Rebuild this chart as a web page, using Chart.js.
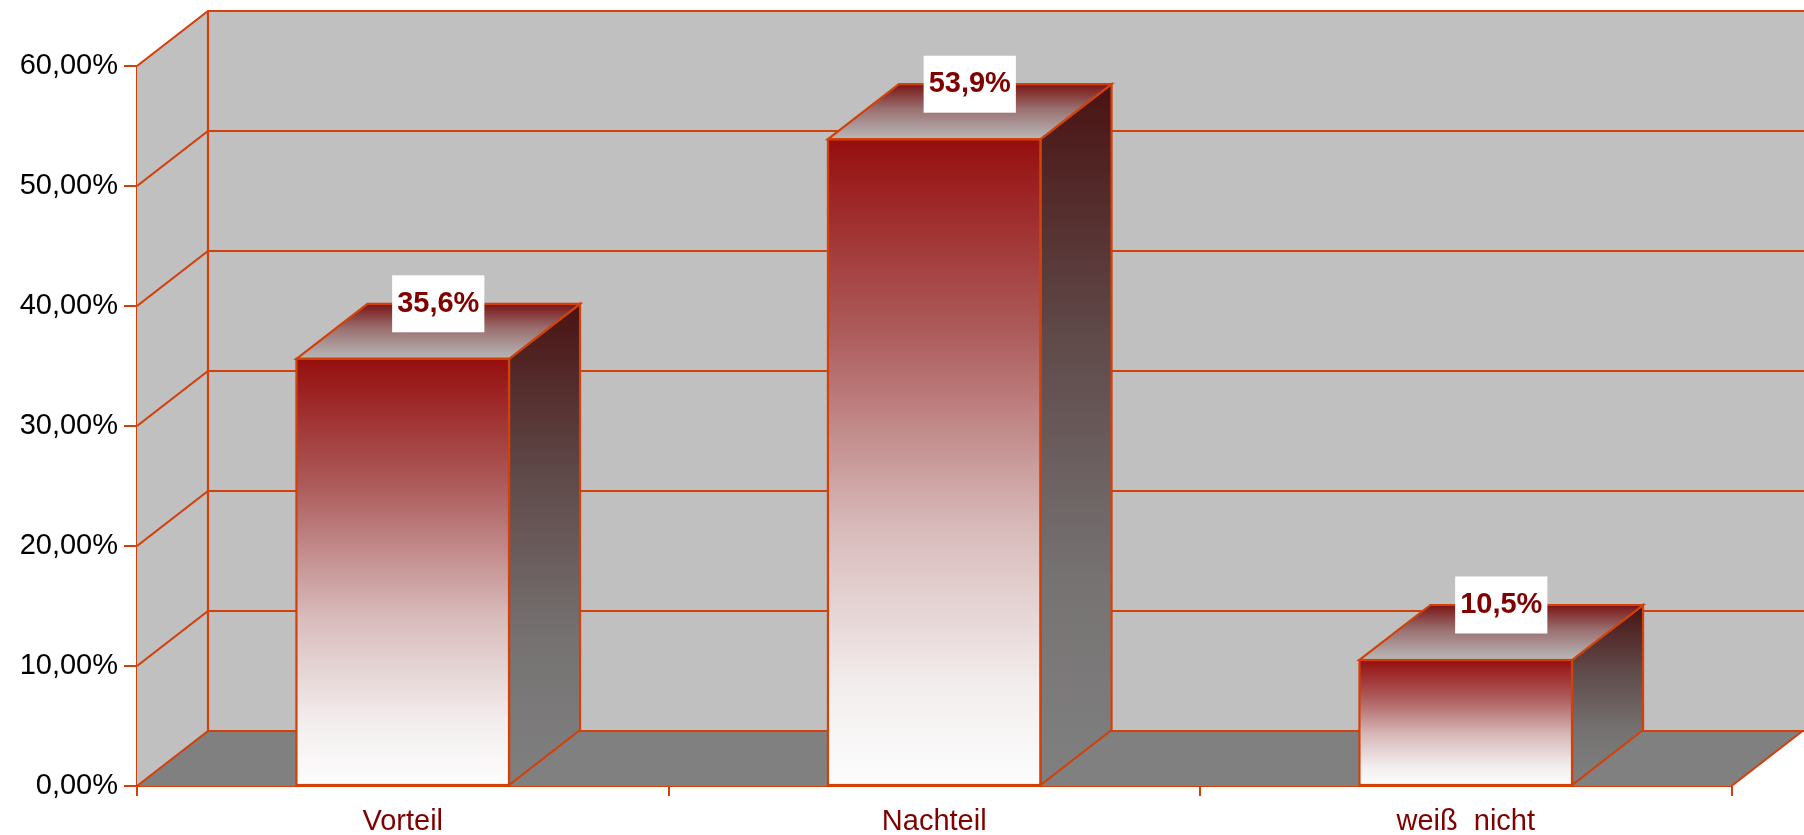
<!DOCTYPE html>
<html>
<head>
<meta charset="utf-8">
<script src="https://cdn.jsdelivr.net/npm/chart.js@4.4.1/dist/chart.umd.min.js"></script>
<style>
html,body{margin:0;padding:0;background:#fff;}
#wrap{width:1804px;height:835px;}
</style>
</head>
<body>
<div id="wrap"><canvas id="c" width="1804" height="835"></canvas></div>
<script>
const categories = ['Vorteil', 'Nachteil', 'weiß  nicht'];
const shares = [35.6, 53.9, 10.5];
const yTicks = [0, 10, 20, 30, 40, 50, 60];

const LINE = '#d2410a';
const DX = 71, DY = 55;
const FONT = "'Liberation Sans', Arial, sans-serif";

function pct2(v){ return v.toFixed(2).replace('.', ',') + '%'; }
function pct1(v){ return v.toFixed(1).replace('.', ',') + '%'; }

const threeD = {
  id: 'threeD',
  beforeDatasetsDraw(chart){
    const {ctx, chartArea:a, scales:{y}} = chart;
    const W = chart.width;
    const y0 = y.getPixelForValue(0), yTop = y.getPixelForValue(yTicks[yTicks.length-1]);
    ctx.save();
    ctx.fillStyle = '#c0c0c0';
    ctx.fillRect(a.left + DX, yTop - DY, W - a.left - DX, y0 - yTop);
    ctx.beginPath();
    ctx.moveTo(a.left, yTop); ctx.lineTo(a.left + DX, yTop - DY);
    ctx.lineTo(a.left + DX, y0 - DY); ctx.lineTo(a.left, y0); ctx.closePath();
    ctx.fill();
    ctx.fillStyle = '#808080';
    ctx.beginPath();
    ctx.moveTo(a.left, y0); ctx.lineTo(a.right, y0);
    ctx.lineTo(a.right + DX, y0 - DY); ctx.lineTo(a.left + DX, y0 - DY); ctx.closePath();
    ctx.fill();
    ctx.strokeStyle = LINE; ctx.lineWidth = 2.2;
    yTicks.forEach(v => {
      const py = y.getPixelForValue(v);
      ctx.beginPath();
      ctx.moveTo(a.left, py); ctx.lineTo(a.left + DX, py - DY); ctx.lineTo(W, py - DY);
      ctx.stroke();
    });
    ctx.beginPath();
    ctx.moveTo(a.left + DX, yTop - DY); ctx.lineTo(a.left + DX, y0 - DY); ctx.stroke();
    ctx.beginPath();
    ctx.moveTo(a.right, y0); ctx.lineTo(a.right + DX, y0 - DY); ctx.stroke();
    ctx.restore();
  },
  afterDatasetsDraw(chart){
    const {ctx} = chart;
    const meta = chart.getDatasetMeta(0);
    ctx.save();
    meta.data.forEach((bar, i) => {
      const p = bar.getProps(['x','y','base','width'], true);
      const L = p.x - p.width/2, R = p.x + p.width/2, T = p.y, B = p.base;
      let g = ctx.createLinearGradient(0, T - DY, 0, B);
      g.addColorStop(0, '#4a1212');
      g.addColorStop(0.35, '#5f4848');
      g.addColorStop(0.7, '#767272');
      g.addColorStop(1, '#808080');
      ctx.fillStyle = g;
      ctx.beginPath();
      ctx.moveTo(R, T); ctx.lineTo(R + DX, T - DY); ctx.lineTo(R + DX, B - DY); ctx.lineTo(R, B); ctx.closePath();
      ctx.fill();
      ctx.strokeStyle = LINE; ctx.lineWidth = 2.2; ctx.stroke();
      g = ctx.createLinearGradient(0, T - DY, 0, T);
      g.addColorStop(0, '#7a1414');
      g.addColorStop(0.45, '#9a7070');
      g.addColorStop(1, '#b9b9b9');
      ctx.fillStyle = g;
      ctx.beginPath();
      ctx.moveTo(L, T); ctx.lineTo(R, T); ctx.lineTo(R + DX, T - DY); ctx.lineTo(L + DX, T - DY); ctx.closePath();
      ctx.fill(); ctx.stroke();
      ctx.strokeRect(L, T, R - L, B - T);
      const txt = pct1(shares[i]);
      ctx.font = 'bold 29px ' + FONT;
      const tw = ctx.measureText(txt).width;
      const cx = p.x + DX/2, cy = T - DY;
      const bw = tw + 10, bh = 57;
      ctx.fillStyle = '#ffffff';
      ctx.fillRect(cx - bw/2, cy - bh/2, bw, bh);
      ctx.fillStyle = '#800000';
      ctx.textAlign = 'center'; ctx.textBaseline = 'alphabetic';
      ctx.fillText(txt, cx, cy + 8);
    });
    ctx.restore();
  }
};

new Chart(document.getElementById('c'), {
  type: 'bar',
  data: {
    labels: categories,
    datasets: [{
      data: shares,
      barPercentage: 0.4,
      categoryPercentage: 1.0,
      borderWidth: 0,
      backgroundColor: (c) => {
        const chart = c.chart, y = chart.scales && chart.scales.y;
        if (!y || c.type !== 'data') return '#960e0e';
        const top = y.getPixelForValue(c.raw), base = y.getPixelForValue(0);
        if (!isFinite(top) || !isFinite(base) || top === base) return '#960e0e';
        const g = chart.ctx.createLinearGradient(0, top, 0, base);
        g.addColorStop(0, '#960e0e');
        g.addColorStop(0.3, '#ad5c5c');
        g.addColorStop(0.6, '#d8baba');
        g.addColorStop(0.85, '#f3eeee');
        g.addColorStop(1, '#fdfdfd');
        return g;
      }
    }]
  },
  options: {
    responsive: false,
    animation: false,
    devicePixelRatio: 1,
    layout: { padding: { top: 66, right: 72.5, left: 0, bottom: 0 } },
    plugins: { legend: { display: false }, tooltip: { enabled: false } },
    scales: {
      x: {
        offset: true,
        grid: { display: true, drawOnChartArea: false, drawTicks: true, tickLength: 10, color: LINE, lineWidth: 2, offset: true },
        border: { display: true, color: LINE, width: 2 },
        ticks: { color: '#800000', font: { family: FONT, size: 29 }, padding: 9, maxRotation: 0 },
        afterFit(s){ s.height = 49; }
      },
      y: {
        min: 0, max: 60,
        afterBuildTicks(s){ s.ticks = yTicks.map(v => ({value: v})); },
        grid: { display: true, drawOnChartArea: false, drawTicks: true, tickLength: 13, color: LINE, lineWidth: 2 },
        border: { display: true, color: LINE, width: 2 },
        ticks: { color: '#000000', font: { family: FONT, size: 29 }, padding: 6, callback: (v) => pct2(v) },
        afterFit(s){ s.width = 137; }
      }
    }
  },
  plugins: [threeD]
});
</script>
</body>
</html>
